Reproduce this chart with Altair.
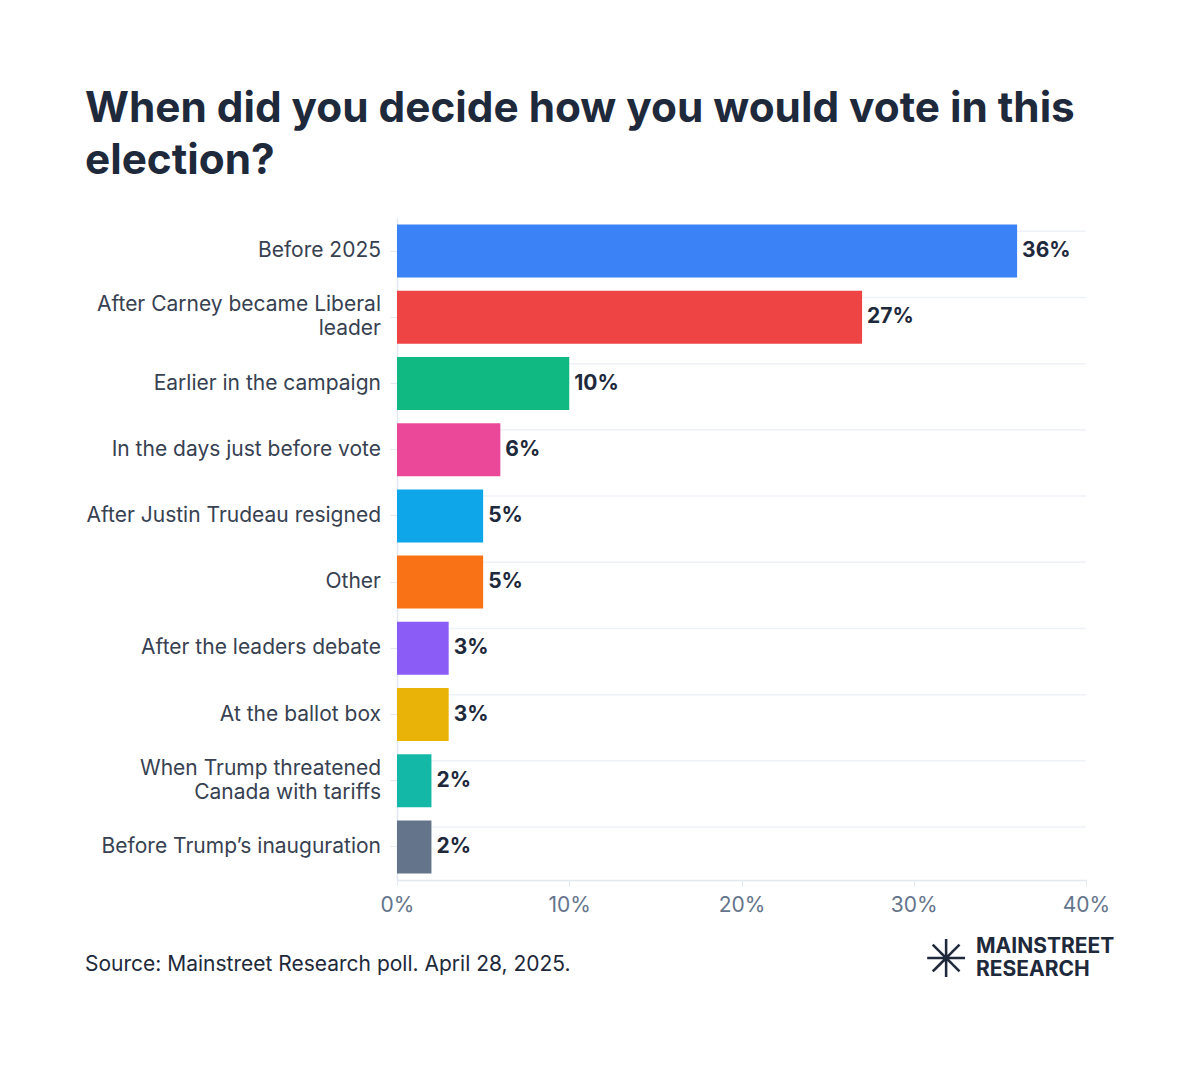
import altair as alt
import pandas as pd

categories = [
    "Before 2025",
    "After Carney became Liberal leader",
    "Earlier in the campaign",
    "In the days just before vote",
    "After Justin Trudeau resigned",
    "Other",
    "After the leaders debate",
    "At the ballot box",
    "When Trump threatened Canada with tariffs",
    "Before Trump\u2019s inauguration",
]
values = [36, 27, 10, 6, 5, 5, 3, 3, 2, 2]
colors = ["#3b82f6", "#ef4444", "#10b981", "#ec4899", "#0ea5e9",
          "#f97316", "#8b5cf6", "#eab308", "#14b8a6", "#64748b"]
x_ticks = [0, 10, 20, 30, 40]
label_line1 = ["Before 2025", "After Carney became Liberal", "Earlier in the campaign",
               "In the days just before vote", "After Justin Trudeau resigned", "Other",
               "After the leaders debate", "At the ballot box", "When Trump threatened",
               "Before Trump\u2019s inauguration"]
label_line2 = ["", "leader", "", "", "", "", "", "", "Canada with tariffs", ""]
title_lines = ["When did you decide how you would vote in this", "election?"]
source_text = "Source: Mainstreet Research poll. April 28, 2025."
logo_lines = ["MAINSTREET", "RESEARCH"]

W, H = 689, 662
FONT = "Inter"
DARK = "#1e293b"
LABEL = "#374151"

df = pd.DataFrame({"cat": categories, "val": values,
                   "l1": label_line1, "l2": label_line2})
df["two"] = df["l2"] != ""

y_enc = alt.Y(
    "cat:N", sort=categories,
    scale=alt.Scale(paddingInner=0.2, paddingOuter=0.1),
    axis=alt.Axis(
        title=None, labels=False,
        tickSize=7, tickColor="#e2e8f0", domainColor="#e2e8f0", domainWidth=1.5,
        grid=False,
    ),
)
x_enc = alt.X(
    "val:Q", scale=alt.Scale(domain=[0, 40], nice=False),
    axis=alt.Axis(
        title=None, values=x_ticks, labelExpr="datum.value + '%'",
        labelFontSize=21, labelFont=FONT, labelColor="#64748b", labelPadding=8,
        tickSize=6, tickColor="#e2e8f0", domainColor="#e2e8f0", domainWidth=1.5,
        grid=False, labelFlush=False,
    ),
)

base = alt.Chart(df)

grid = base.mark_rule(color="#eef2f7", strokeWidth=1.5).encode(
    y=alt.Y("cat:N", sort=categories, bandPosition=1),
    yOffset=alt.value(6.62),
    x=alt.value(0), x2=alt.value(W),
)

bars = base.mark_bar().encode(
    y=y_enc, x=x_enc,
    color=alt.Color("cat:N", scale=alt.Scale(domain=categories, range=colors), legend=None),
)

values_txt = base.mark_text(align="left", dx=5, fontSize=21, fontWeight="bold",
                            font=FONT, color=DARK).encode(
    y=alt.Y("cat:N", sort=categories), x="val:Q",
    text=alt.Text("lbl:N"),
).transform_calculate(lbl="datum.val + '%'")

def cat_labels(filt, field, dy):
    return base.transform_filter(filt).mark_text(
        align="right", baseline="middle", fontSize=21, font=FONT, color=LABEL, dy=dy
    ).encode(y=alt.Y("cat:N", sort=categories), x=alt.value(-16), text=f"{field}:N")

lab_single = cat_labels("!datum.two", "l1", 0)
lab_top = cat_labels("datum.two", "l1", -12)
lab_bot = cat_labels("datum.two", "l2", 12)

source = alt.Chart(pd.DataFrame({"t": [source_text]})).mark_text(
    align="left", baseline="middle", fontSize=21, font=FONT, color=DARK
).encode(x=alt.value(-312), y=alt.value(747), text="t:N")

logo1 = alt.Chart(pd.DataFrame({"t": [logo_lines[0]]})).mark_text(
    align="left", baseline="middle", fontSize=21, fontWeight="bold", font=FONT, color=DARK
).encode(x=alt.value(579), y=alt.value(729), text="t:N")
logo2 = alt.Chart(pd.DataFrame({"t": [logo_lines[1]]})).mark_text(
    align="left", baseline="middle", fontSize=21, fontWeight="bold", font=FONT, color=DARK
).encode(x=alt.value(579), y=alt.value(752), text="t:N")
logo_mark = alt.Chart(pd.DataFrame({"t": ["\u2733"]})).mark_text(
    align="center", baseline="middle", fontSize=52, fontWeight="bold",
    font="DejaVu Sans", color=DARK
).encode(x=alt.value(549), y=alt.value(743), text="t:N")

chart = alt.layer(grid, bars, values_txt, lab_single, lab_top, lab_bot,
                  source, logo1, logo2, logo_mark).properties(
    width=W, height=H,
    background="white",
    title=alt.TitleParams(
        text=title_lines, anchor="start", frame="group", dx=-312, offset=35,
        fontSize=42.3, fontWeight="bold", font=FONT, color=DARK, lineHeight=52,
    ),
    autosize=alt.AutoSizeParams(type="none"),
    padding={"left": 389, "top": 210, "right": 100, "bottom": 170},
).configure_view(strokeWidth=0, stroke="transparent")

chart.save("out.html", embed_options={"renderer": "svg", "actions": False})
